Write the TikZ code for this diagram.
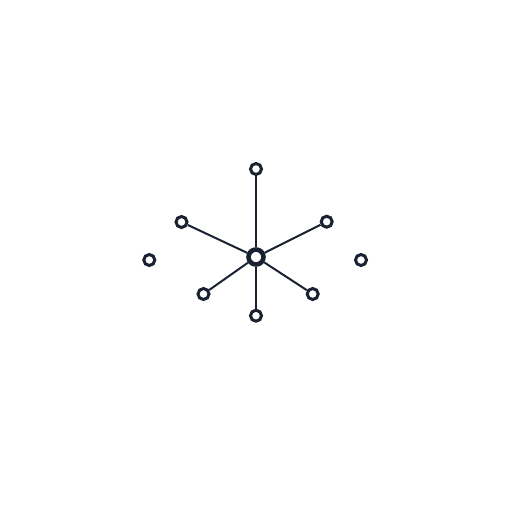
\documentclass[tikz,border=0pt]{standalone}
\definecolor{ink}{HTML}{1A2130}
\begin{document}
\begin{tikzpicture}[x=1pt,y=-1pt,
  leaf/.style={circle,draw=ink,line width=3pt,fill=white,minimum size=11pt,inner sep=0pt},
  hub/.style={circle,draw=ink,line width=4.6pt,fill=white,minimum size=15pt,inner sep=0pt},
  link/.style={draw=ink,line width=2pt}]
\useasboundingbox[fill=white] (0,0) rectangle (512,512);
\node[hub] (c) at (256,257) {};
\node[leaf] (t) at (256,169) {};
\node[leaf] (ul) at (181.5,222) {};
\node[leaf] (ur) at (326.7,221.7) {};
\node[leaf] (l) at (149.3,260) {};
\node[leaf] (r) at (361,260) {};
\node[leaf] (ll) at (203.5,294) {};
\node[leaf] (lr) at (312.7,294) {};
\node[leaf] (b) at (256,315.7) {};
\foreach \n in {t,ul,ur,ll,lr,b} \draw[link] (c) -- (\n);
\end{tikzpicture}
\end{document}
